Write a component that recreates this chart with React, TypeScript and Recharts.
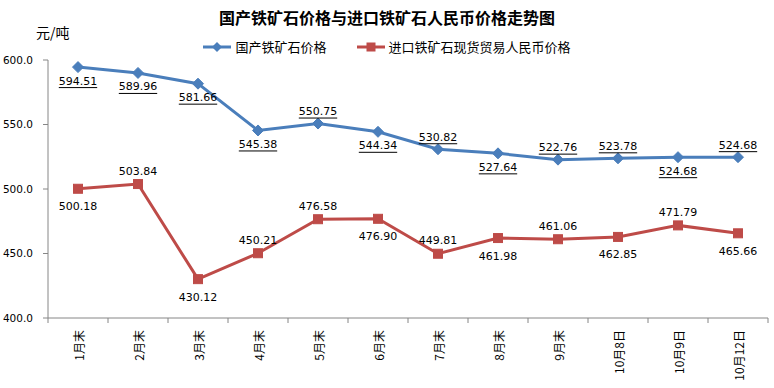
import React from 'react';
import { LineChart, Line, XAxis, YAxis } from 'recharts';

const categories = ['1月末', '2月末', '3月末', '4月末', '5月末', '6月末', '7月末', '8月末', '9月末', '10月8日', '10月9日', '10月12日'];
const domesticPrice = [594.51, 589.96, 581.66, 545.38, 550.75, 544.34, 530.82, 527.64, 522.76, 523.78, 524.68, 524.68];
const importPrice = [500.18, 503.84, 430.12, 450.21, 476.58, 476.9, 449.81, 461.98, 461.06, 462.85, 471.79, 465.66];
const yTicks = [400, 450, 500, 550, 600];
const domesticLabelSide = ['below', 'below', 'below', 'below', 'above', 'below', 'above', 'below', 'above', 'above', 'below', 'above'];
const importLabelSide = ['below', 'above', 'below', 'above', 'above', 'below', 'above', 'below', 'above', 'below', 'above', 'below'];

const seriesNames = ['国产铁矿石价格', '进口铁矿石现货贸易人民币价格'];

const data = categories.map((c, i) => ({ name: c, domestic: domesticPrice[i], imported: importPrice[i] }));

const W = 774;
const H = 388;
const M = { top: 60, right: 6, bottom: 0, left: 8 };
const Y_AXIS_W = 40;
const BLUE = '#4A7EBB';
const RED = '#BE4B48';
const AXIS = '#868686';
const NUM_FONT = 'DejaVu Sans, Verdana, sans-serif';
const CJK_FONT = '"Noto Sans CJK SC", "Noto Sans", sans-serif';
const PLOT_W = W - M.left - M.right - Y_AXIS_W;
const BAND = PLOT_W / categories.length;

const Diamond = (props: any) => {
  const { cx, cy } = props;
  if (cx == null || cy == null) return null;
  const r = 5.5;
  return <polygon points={`${cx},${cy - r} ${cx + r},${cy} ${cx},${cy + r} ${cx - r},${cy}`} fill={BLUE} stroke={BLUE} strokeWidth={1} />;
};

const Square = (props: any) => {
  const { cx, cy } = props;
  if (cx == null || cy == null) return null;
  const s = 9;
  return <rect x={cx - s / 2} y={cy - s / 2} width={s} height={s} fill={RED} stroke={RED} strokeWidth={1} />;
};

const makeLabel = (sides: string[], underline: boolean, above: number, below: number) => (props: any) => {
  const { x, y, value, index } = props;
  if (x == null || y == null) return null;
  const side = sides[index];
  const dy = side === 'above' ? above : below;
  const txt = Number(value).toFixed(2);
  const w = txt.length * 6.4;
  const ty = y + dy;
  return (
    <g key={`l-${index}`}>
      <text
        x={x}
        y={ty}
        textAnchor="middle"
        dominantBaseline="central"
        fontSize={11}
        fontFamily={NUM_FONT}
        fill="#000"
      >
        {txt}
      </text>
      {underline && <line x1={x - w / 2} y1={ty + 6.5} x2={x + w / 2} y2={ty + 6.5} stroke="#000" strokeWidth={1} />}
    </g>
  );
};

const XTick = (props: any) => {
  const { x, y, payload, index } = props;
  const left = x - BAND / 2;
  const right = x + BAND / 2;
  return (
    <g>
      <line x1={left} y1={y} x2={left} y2={y + 5} stroke={AXIS} />
      {index === categories.length - 1 && <line x1={right} y1={y} x2={right} y2={y + 5} stroke={AXIS} />}
      <text
        x={x}
        y={y + 12}
        textAnchor="end"
        dominantBaseline="central"
        fontSize={12}
        fontFamily={CJK_FONT}
        fill="#000"
        transform={`rotate(-90, ${x}, ${y + 12})`}
      >
        {payload.value}
      </text>
    </g>
  );
};

const LegendBox = () => (
  <div style={{ position: 'absolute', left: 0, top: 38, width: W, display: 'flex', justifyContent: 'center', alignItems: 'center', fontFamily: CJK_FONT, fontSize: 13, color: '#000', lineHeight: '18px' }}>
    <svg width={28} height={12} style={{ marginRight: 4 }}>
      <line x1={0} y1={6} x2={28} y2={6} stroke={BLUE} strokeWidth={3} />
      <polygon points="14,1 19,6 14,11 9,6" fill={BLUE} />
    </svg>
    <span style={{ marginRight: 30 }}>{seriesNames[0]}</span>
    <svg width={28} height={12} style={{ marginRight: 4 }}>
      <line x1={0} y1={6} x2={28} y2={6} stroke={RED} strokeWidth={3} />
      <rect x={9.5} y={1.5} width={9} height={9} fill={RED} />
    </svg>
    <span>{seriesNames[1]}</span>
  </div>
);

export default function App() {
  return (
    <div style={{ position: 'absolute', left: 0, top: 0, width: W, height: H, background: '#fff' }}>
      <div style={{ position: 'absolute', left: 0, top: 5, width: W, textAlign: 'center', fontFamily: CJK_FONT, fontWeight: 'bold', fontSize: 16, color: '#000', lineHeight: '24px' }}>
        国产铁矿石价格与进口铁矿石人民币价格走势图
      </div>
      <div style={{ position: 'absolute', left: 36, top: 22, fontFamily: CJK_FONT, fontSize: 14, color: '#000', lineHeight: '20px' }}>
        元/吨
      </div>
      <LegendBox />
      <div style={{ position: 'absolute', left: 0, top: 0 }}>
        <LineChart width={W} height={H} data={data} margin={M}>
          <XAxis
            dataKey="name"
            interval={0}
            height={H - 318}
            padding={{ left: BAND / 2, right: BAND / 2 }}
            axisLine={{ stroke: AXIS }}
            tickLine={false}
            tickSize={0}
            tickMargin={0}
            tick={<XTick />}
          />
          <YAxis
            width={Y_AXIS_W}
            domain={[400, 600]}
            ticks={yTicks}
            tickFormatter={(v: number) => v.toFixed(1)}
            axisLine={{ stroke: AXIS }}
            tickLine={{ stroke: AXIS }}
            tickSize={5}
            tickMargin={10}
            tick={{ fontSize: 10.5, fontFamily: NUM_FONT, fill: '#000' }}
          />
          <Line
            type="linear"
            dataKey="domestic"
            name={seriesNames[0]}
            stroke={BLUE}
            strokeWidth={3}
            dot={<Diamond />}
            activeDot={false}
            isAnimationActive={false}
            label={makeLabel(domesticLabelSide, true, -12, 14)}
          />
          <Line
            type="linear"
            dataKey="imported"
            name={seriesNames[1]}
            stroke={RED}
            strokeWidth={3}
            dot={<Square />}
            activeDot={false}
            isAnimationActive={false}
            label={makeLabel(importLabelSide, false, -13, 18)}
          />
        </LineChart>
      </div>
    </div>
  );
}
